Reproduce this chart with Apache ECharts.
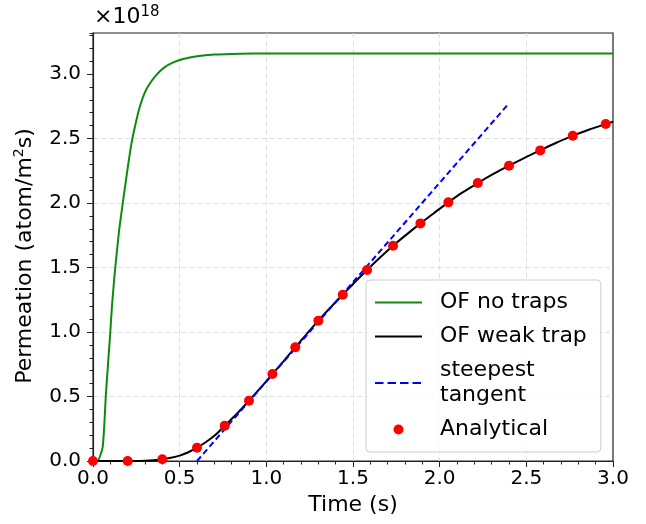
<!DOCTYPE html>
<html>
<head>
<meta charset="utf-8">
<script src="https://cdn.jsdelivr.net/npm/echarts@6/dist/echarts.min.js"></script>
<style>
html,body{margin:0;padding:0;background:#fff;}
#chart{width:646px;height:524px;}
</style>
</head>
<body>
<div id="chart"></div>
<script>
// ---- data (values in units of 1e18 atom/m^2/s) ----
const xTicks = [0.0, 0.5, 1.0, 1.5, 2.0, 2.5, 3.0];
const yTicks = [0.0, 0.5, 1.0, 1.5, 2.0, 2.5, 3.0];

const noTrapT = [0, 0.025, 0.056, 0.075, 0.098, 0.11, 0.127, 0.15, 0.175, 0.2, 0.223, 0.25, 0.271, 0.3, 0.33, 0.367, 0.41, 0.463, 0.52, 0.6, 0.7, 0.85, 1.0, 3.0];
const noTrapV = [0, 0, 0.11, 0.53, 0.964, 1.21, 1.48, 1.78, 2.03, 2.27, 2.47, 2.64, 2.75, 2.86, 2.93, 2.995, 3.05, 3.09, 3.117, 3.138, 3.151, 3.158, 3.16, 3.16];

const weakT = [0, 0.25, 0.3, 0.35, 0.4, 0.45, 0.5, 0.55, 0.6, 0.65, 0.7, 0.76, 0.83, 0.9, 0.97, 1.035, 1.1, 1.167, 1.23, 1.3, 1.37, 1.441, 1.51, 1.581, 1.65, 1.731, 1.81, 1.889, 1.97, 2.05, 2.13, 2.22, 2.31, 2.40, 2.49, 2.58, 2.67, 2.768, 2.86, 2.958, 3.0];
const weakV = [0, 0, 0.002, 0.006, 0.013, 0.025, 0.042, 0.068, 0.103, 0.145, 0.195, 0.274, 0.366, 0.467, 0.572, 0.674, 0.775, 0.881, 0.98, 1.088, 1.19, 1.289, 1.386, 1.481, 1.57, 1.669, 1.757, 1.842, 1.925, 2.005, 2.08, 2.155, 2.225, 2.289, 2.35, 2.408, 2.465, 2.522, 2.568, 2.612, 2.63];

const tangentT = [0.6, 2.4];
const tangentV = [0, 2.773];

const analyticT = [0, 0.2, 0.4, 0.6, 0.76, 0.90, 1.035, 1.167, 1.30, 1.441, 1.581, 1.731, 1.889, 2.05, 2.22, 2.40, 2.58, 2.768, 2.958];
const analyticV = [0, 0, 0.013, 0.103, 0.274, 0.467, 0.674, 0.881, 1.088, 1.289, 1.481, 1.669, 1.842, 2.005, 2.155, 2.289, 2.408, 2.522, 2.612];

const yMax = 3.318;
// ---------------------------------------------------

const zip = (a, b) => a.map((v, i) => [v, b[i]]);
const FONT = 'DejaVu Sans';
const ICON_LINE = 'path://M0,0h47v2h-47z';
const ICON_DASH = 'path://M0,0h8.5v2h-8.5z M12.5,0h8.5v2h-8.5z M25,0h8.5v2h-8.5z M37.5,0h8.5v2h-8.5z M47,0h0v2h0z';

const chart = echarts.init(document.getElementById('chart'), null, {renderer: 'canvas'});
chart.setOption({
  animation: false,
  backgroundColor: '#fff',
  textStyle: {fontFamily: FONT},
  grid: {left: 93, right: 33, top: 33, bottom: 63, show: true, borderColor: '#222', borderWidth: 1.2, backgroundColor: 'transparent'},
  graphic: [{
    type: 'text', left: 94, top: 5, z: 10,
    style: {
      text: '×10{sup|18}', fontFamily: FONT, fontSize: 22, fill: '#000',
      rich: {sup: {fontSize: 15, verticalAlign: 'top', fontFamily: FONT, fill: '#000', padding: [0, 0, 9, 0]}}
    }
  }],
  legend: {
    orient: 'vertical', left: 366, top: 280,
    padding: [10, 14, 10, 9], itemGap: 9,
    itemWidth: 47, itemHeight: 10, symbolKeepAspect: true,
    backgroundColor: 'rgba(255,255,255,0.8)', borderColor: '#ccc', borderWidth: 1, borderRadius: 4,
    textStyle: {fontSize: 22, color: '#000', fontFamily: FONT, padding: [0, 0, 0, 13], lineHeight: 25},
    formatter: n => n === 'steepest tangent' ? 'steepest\ntangent' : n,
    data: [
      {name: 'OF no traps', icon: ICON_LINE},
      {name: 'OF weak trap', icon: ICON_LINE},
      {name: 'steepest tangent', icon: ICON_DASH},
      {name: 'Analytical', icon: 'circle'}
    ]
  },
  xAxis: {
    type: 'value', min: 0, max: 3, interval: 0.5,
    name: 'Time (s)', nameLocation: 'middle', nameGap: 33,
    nameTextStyle: {fontSize: 22, color: '#000', fontFamily: FONT},
    axisLine: {show: true, lineStyle: {color: '#222', width: 1.2}},
    axisTick: {show: true, length: 6, lineStyle: {color: '#222', width: 1}},
    minorTick: {show: true, splitNumber: 5, length: 3.5, lineStyle: {color: '#222', width: 1}},
    axisLabel: {fontSize: 20, color: '#000', margin: 8, fontFamily: FONT, formatter: v => v.toFixed(1),
      customValues: xTicks},
    splitLine: {show: true, showMinLine: false, showMaxLine: false, lineStyle: {color: '#e0e0e0', type: [5, 3], width: 1}},
    minorSplitLine: {show: false}
  },
  yAxis: [{
    type: 'value', min: 0, max: yMax, interval: 0.5,
    name: 'Permeation (atom/m{sup|2}s)', nameLocation: 'middle', nameGap: 51,
    nameTextStyle: {fontSize: 22, color: '#000', fontFamily: FONT, lineHeight: 26, padding: [0, 18, 0, 0],
      rich: {sup: {fontSize: 14, verticalAlign: 'top', fontFamily: FONT, color: '#000', lineHeight: 14}}},
    axisLine: {show: true, lineStyle: {color: '#222', width: 1.2}},
    axisTick: {show: true, length: 6, lineStyle: {color: '#222', width: 1}, customValues: yTicks},
    axisLabel: {fontSize: 20, color: '#000', margin: 12, fontFamily: FONT,
      formatter: v => v.toFixed(1), customValues: yTicks},
    splitLine: {show: true, showMinLine: false, showMaxLine: false, lineStyle: {color: '#e0e0e0', type: [5, 3], width: 1}}
  }, {
    type: 'value', min: 0, max: yMax, interval: 0.1, position: 'left',
    axisLine: {show: false}, axisLabel: {show: false}, splitLine: {show: false},
    axisTick: {show: true, length: 3.5, lineStyle: {color: '#222', width: 1}}
  }],
  series: [{
    name: 'OF no traps', type: 'line', data: zip(noTrapT, noTrapV),
    showSymbol: false, symbol: 'none', smooth: 0.2, z: 3,
    lineStyle: {color: '#0c8c0c', width: 2}, itemStyle: {color: '#0c8c0c'}
  }, {
    name: 'OF weak trap', type: 'line', data: zip(weakT, weakV),
    showSymbol: false, symbol: 'none', smooth: 0.3, z: 3,
    lineStyle: {color: '#000', width: 2}, itemStyle: {color: '#000'}
  }, {
    name: 'steepest tangent', type: 'line', data: zip(tangentT, tangentV),
    showSymbol: false, symbol: 'none', z: 4,
    lineStyle: {color: '#0000ff', width: 2, type: [6, 3.5]}, itemStyle: {color: '#0000ff'}
  }, {
    name: 'Analytical', type: 'scatter', data: zip(analyticT, analyticV),
    symbol: 'circle', symbolSize: 10, z: 5,
    itemStyle: {color: '#ff0000', opacity: 1}
  }]
});
</script>
</body>
</html>
